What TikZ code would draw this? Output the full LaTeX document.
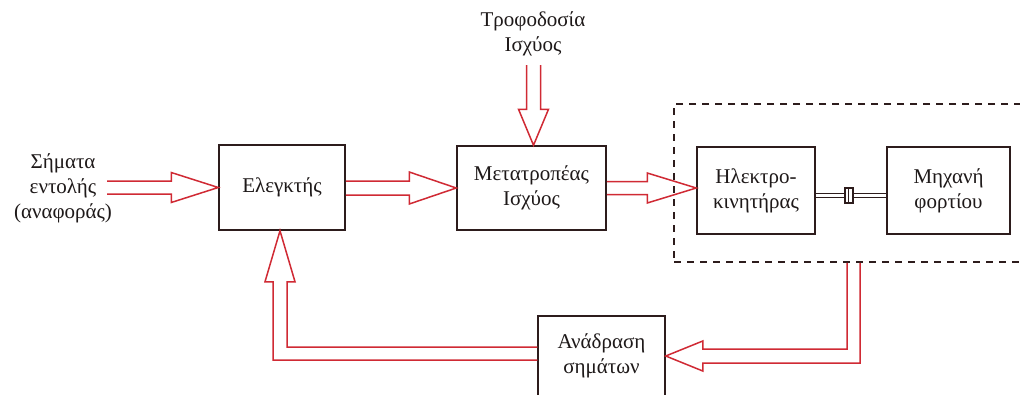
\documentclass[tikz,border=0pt]{standalone}
\usepackage{fontspec}
\setmainfont{Liberation Serif}
\usetikzlibrary{calc}
\definecolor{boxcol}{RGB}{45,28,28}
\definecolor{arrred}{RGB}{208,42,52}
\definecolor{txtcol}{RGB}{30,25,25}
\tikzset{
  blockbox/.style={draw=boxcol, line width=1.5pt, align=center, inner sep=0pt, text=txtcol,
    font=\fontsize{21}{25}\selectfont},
  lbl/.style={align=center, inner sep=0pt, text=txtcol, font=\fontsize{21}{25}\selectfont},
  harrow/.style={draw=arrred, line width=1.5pt, line join=miter},
  grpbox/.style={draw=boxcol, line width=1.5pt, dash pattern=on 7pt off 6pt, inner sep=0pt},
  shaftline/.style={draw=boxcol, line width=1.4pt, double=white, double distance=2.4pt},
  coupling/.style={draw=boxcol, fill=white, line width=1.3pt, minimum width=8pt, minimum height=15pt, inner sep=0pt}
}
\begin{document}
\begin{tikzpicture}[x=1pt,y=-1pt]
\useasboundingbox (0,0) rectangle (1020,394);
\fill[white] (0,0) rectangle (1020,394);
\clip (0,0) rectangle (1020,394);

% dashed group
\node[grpbox, minimum width=361pt, minimum height=158pt] (grp) at (854.5,183) {};

% blocks
\node[blockbox, minimum width=126pt, minimum height=85pt] (ctl) at (282,187.5) {Ελεγκτής};
\node[blockbox, minimum width=149pt, minimum height=84pt] (conv) at (531.5,188) {Μετατροπέας\\Ισχύος};
\node[blockbox, minimum width=118pt, minimum height=87pt] (motor) at (756,190.5) {Ηλεκτρο-\\κινητήρας};
\node[blockbox, minimum width=123pt, minimum height=87pt] (load) at (948.5,190.5) {Μηχανή\\φορτίου};
\node[blockbox, minimum width=127pt, minimum height=80pt] (fb) at (601.5,356) {Ανάδραση\\σημάτων};

% labels
\node[lbl] (cmd) at (63,188) {Σήματα\\εντολής\\(αναφοράς)};
\node[lbl] (pwrlbl) at (533,34) {Τροφοδοσία\\Ισχύος};

% helper coordinates
\coordinate (inp) at (107,187.5);
\coordinate (pwr) at (533,65);
\coordinate (tapx) at (853.5,0);
\coordinate (ret) at ($(fb.west)+(0,-2.5)$);
\coordinate (rettip) at ($(ctl.south)+(-2,0)$);
\coordinate (pwrtip) at ($(conv.north)+(2,0)$);

% input arrow
\draw[harrow] let \p1=(inp), \p2=(ctl.west) in
  (\x1,\y2+6.5pt) -- (\x2-47pt,\y2+6.5pt) -- (\x2-47pt,\y2+15pt) -- (\p2)
  -- (\x2-47pt,\y2-15pt) -- (\x2-47pt,\y2-6.5pt) -- (\x1,\y2-6.5pt);

% controller -> converter
\draw[harrow] let \p1=(ctl.east), \p2=(conv.west) in
  (\x1,\y2+7pt) -- (\x2-47pt,\y2+7pt) -- (\x2-47pt,\y2+16pt) -- (\p2)
  -- (\x2-47pt,\y2-16pt) -- (\x2-47pt,\y2-7pt) -- (\x1,\y2-7pt);

% converter -> motor
\draw[harrow] let \p1=(conv.east), \p2=(motor.west |- conv.east) in
  (\x1,\y2+6.5pt) -- (\x2-49pt,\y2+6.5pt) -- (\x2-49pt,\y2+15pt) -- (\p2)
  -- (\x2-49pt,\y2-15pt) -- (\x2-49pt,\y2-6.5pt) -- (\x1,\y2-6.5pt);

% power supply -> converter
\draw[harrow] let \p1=(pwr), \p2=(pwrtip) in
  (\x2-7pt,\y1) -- (\x2-7pt,\y2+36pt) -- (\x2-15pt,\y2+36pt) -- (\p2)
  -- (\x2+15pt,\y2+36pt) -- (\x2+7pt,\y2+36pt) -- (\x2+7pt,\y1);

% group -> feedback
\draw[harrow] let \p1=(fb.east), \p2=(tapx |- grp.south) in
  (\x2-6.5pt,\y2) -- (\x2-6.5pt,\y1+7pt) -- (\x1+37pt,\y1+7pt) -- (\x1+37pt,\y1+15pt) -- (\p1)
  -- (\x1+37pt,\y1-15pt) -- (\x1+37pt,\y1-7pt) -- (\x2+6.5pt,\y1-7pt) -- (\x2+6.5pt,\y2);

% feedback -> controller
\draw[harrow] let \p1=(ret), \p2=(rettip) in
  (\x1,\y1+6.5pt) -- (\x2+7pt,\y1+6.5pt) -- (\x2+7pt,\y2-51pt) -- (\x2+15pt,\y2-51pt) -- (\p2)
  -- (\x2-15pt,\y2-51pt) -- (\x2-7pt,\y2-51pt) -- (\x2-7pt,\y1-6.5pt) -- (\x1,\y1-6.5pt);

% shaft with coupling
\draw[shaftline] ($(motor.east)+(0,5)$) -- ($(load.west)+(0,5)$);
\node[coupling] (cpl) at ($(motor.east)!0.47!(load.west)+(0,5)$) {};
\draw[boxcol, line width=0.9pt] (cpl.north) -- (cpl.south);
\end{tikzpicture}
\end{document}
